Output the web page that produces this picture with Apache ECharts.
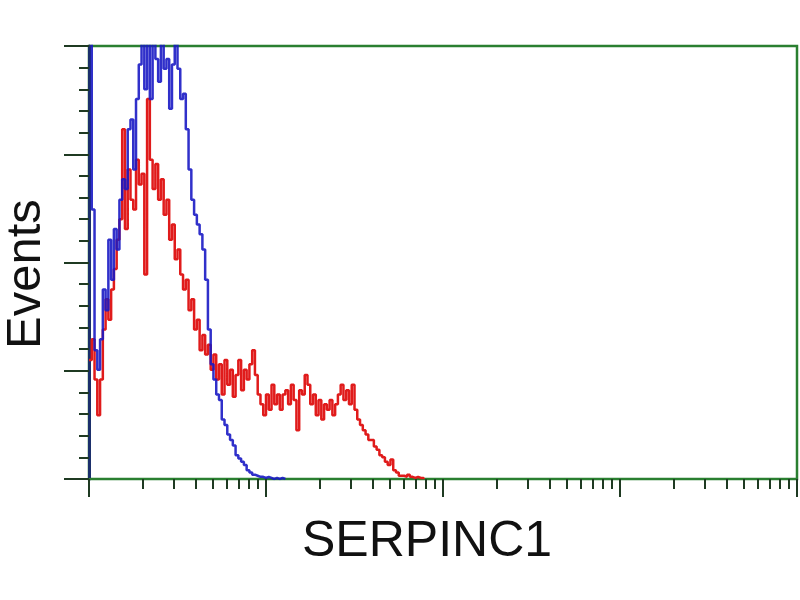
<!DOCTYPE html>
<html>
<head>
<meta charset="utf-8">
<script src="https://cdn.jsdelivr.net/npm/echarts@6/dist/echarts.min.js"></script>
<style>html,body{margin:0;padding:0;background:#fff}#c{width:800px;height:600px}</style>
</head>
<body>
<div id="c"></div>
<script>
// Histogram bin width in decades (64 channels per decade, 4 decades)
const binWidth = 1 / 64;
// Event counts per bin (y scale 0-400)
const blueCounts = [420, 249, 119, 101, 129, 175, 156, 221, 184, 231, 212, 258, 277, 268, 323, 332, 286, 351, 383, 420,
  360, 420, 351, 420, 388, 367, 420, 379, 388, 342, 383, 402, 379, 351, 356, 323, 286, 258, 244, 235,
  226, 212, 184, 138, 106, 92, 78, 73, 55, 50, 41, 36, 31, 22, 19, 16, 13, 8, 6, 4,
  3, 2, 2, 1, 2, 1, 0, 1, 0, 1, 0, 0];
const redCounts = [110, 129, 92, 59, 92, 138, 166, 147, 175, 194, 221, 240, 323, 231, 286, 258, 249, 295, 272, 282,
  189, 351, 295, 268, 291, 258, 277, 244, 258, 221, 235, 203, 212, 189, 175, 184, 156, 166, 138, 147,
  119, 133, 115, 124, 101, 115, 92, 106, 78, 110, 87, 101, 76, 96, 110, 82, 101, 92, 106, 119,
  96, 78, 69, 59, 78, 64, 87, 69, 78, 64, 78, 82, 69, 87, 73, 45, 82, 78, 96, 87,
  69, 78, 59, 73, 55, 69, 64, 73, 59, 69, 78, 87, 73, 82, 69, 87, 64, 55, 50, 45,
  41, 36, 36, 30, 27, 22, 20, 16, 13, 18, 8, 6, 3, 3, 2, 4, 2, 1, 2, 1,
  1, 0];
// Axis tick definitions (decades on a log axis)
const xMajorDecades = [0, 1, 2, 3, 4];
const xMinorMultipliers = [2, 3, 4, 5, 6, 7, 8, 9];
const xTitle = 'SERPINC1';
const yTitle = 'Events';

const xMinorTicks = [];
xMajorDecades.slice(0, -1).forEach(d => xMinorMultipliers.forEach(m => xMinorTicks.push(d + Math.log10(m))));

const toSeries = arr => arr.map((v, i) => [i * binWidth, v]);

const tickColor = '#1f3a22';
const green = '#2a7f30';

const chart = echarts.init(document.getElementById('c'), null, {renderer: 'canvas'});
chart.setOption({
  animation: false,
  backgroundColor: '#ffffff',
  grid: {left: 89, right: 3, top: 46, bottom: 121, show: true, borderColor: green, borderWidth: 2.5, backgroundColor: 'transparent'},
  xAxis: [{
    type: 'value', min: 0, max: 4,
    axisLine: {show: true, lineStyle: {color: green, width: 2}},
    axisTick: {show: true, length: 18, customValues: xMajorDecades, lineStyle: {color: tickColor, width: 2}},
    axisLabel: {show: false}, splitLine: {show: false}
  }, {
    type: 'value', min: 0, max: 4, position: 'bottom',
    axisLine: {show: false},
    axisTick: {show: true, length: 10, customValues: xMinorTicks, lineStyle: {color: tickColor, width: 2}},
    axisLabel: {show: false}, splitLine: {show: false}
  }],
  yAxis: {
    type: 'value', min: 0, max: 400, interval: 100,
    axisLine: {show: true, lineStyle: {color: '#1b2f6b', width: 3}},
    axisTick: {show: true, length: 25, lineStyle: {color: tickColor, width: 2}},
    minorTick: {show: true, splitNumber: 5, length: 10, lineStyle: {color: tickColor, width: 2}},
    axisLabel: {show: false}, splitLine: {show: false}, minorSplitLine: {show: false}
  },
  series: [{
    type: 'line', step: 'end', showSymbol: false, data: toSeries(redCounts),
    lineStyle: {color: '#e01b1b', width: 2.5}, clip: true, z: 3
  }, {
    type: 'line', step: 'end', showSymbol: false, data: toSeries(blueCounts),
    lineStyle: {color: '#1a1ac4', width: 2.5, opacity: 0.9}, clip: true, z: 4
  }],
  graphic: [{
    type: 'text', left: 302, top: 517,
    style: {text: xTitle, font: '50px "Liberation Sans", Arial, sans-serif', fill: '#111'}
  }, {
    type: 'text', x: 2, y: 349, rotation: Math.PI / 2,
    style: {text: yTitle, font: '49px "Liberation Sans", Arial, sans-serif', fill: '#111'}
  }]
});
</script>
</body>
</html>
